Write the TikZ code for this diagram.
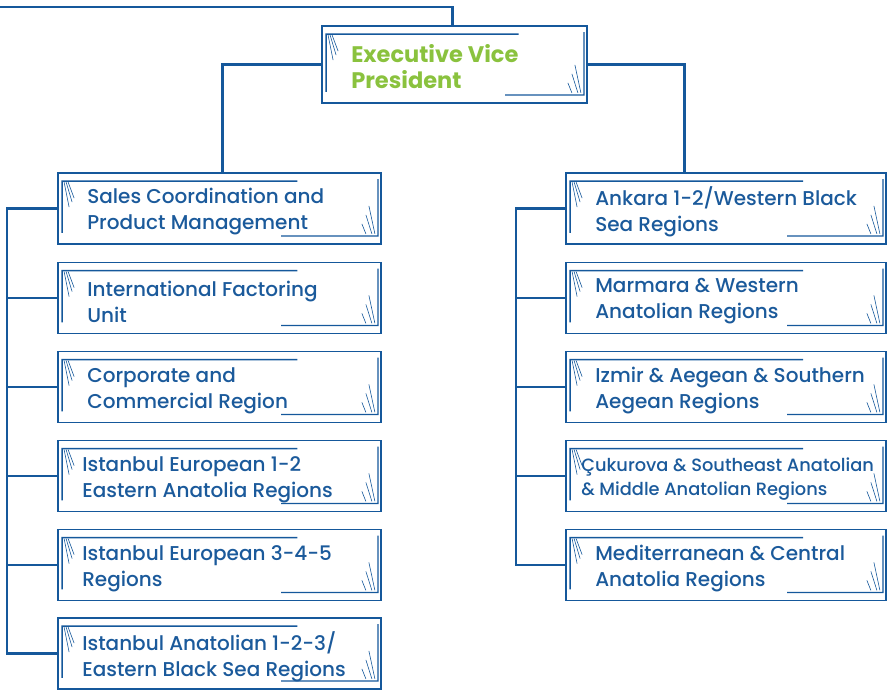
\documentclass[tikz,border=0pt]{standalone}
\usepackage{fontspec}
\setmainfont{Poppins}[UprightFont=* Medium, BoldFont=* Bold]
\usetikzlibrary{calc}
\definecolor{bl}{RGB}{21,88,155}
\definecolor{tx}{RGB}{27,90,155}
\definecolor{gr}{RGB}{138,194,62}
\tikzset{
  box/.style={draw=bl, line width=1.8pt, inner sep=0pt, minimum height=71pt},
  lbox/.style={box, minimum width=323pt},
  rbox/.style={box, minimum width=320pt},
  inner/.style={draw=bl, line width=1.3pt},
  hatch/.style={draw=bl, line width=0.6pt},
  conn/.style={draw=bl, line width=2.8pt},
  lbl/.style={font=\fontsize{20}{26}\selectfont, text=tx, align=left, inner sep=0pt, anchor=west},
  slbl/.style={font=\fontsize{17.8}{24}\selectfont, text=tx, align=left, inner sep=0pt, anchor=west},
}
\newcommand\deco[1]{%
  \draw[inner] ($(#1.south west)+(5,-12)$) -- ($(#1.north west)+(5,9)$) -- ($(#1.north west)!0.74!(#1.north east)+(0,9)$);
  \draw[inner] ($(#1.south west)!0.69!(#1.south east)+(0,-9)$) -- ($(#1.south east)+(-4,-9)$) -- ($(#1.north east)+(-4,7)$);
  \draw[hatch] ($(#1.north west)+(7,10)$) -- ($(#1.north west)+(12,35)$);
  \draw[hatch] ($(#1.north west)+(9,10)$) -- ($(#1.north west)+(15,30)$);
  \draw[hatch] ($(#1.north west)+(11,10)$) -- ($(#1.north west)+(17,26)$);
  \draw[hatch] ($(#1.south east)+(-13,-39)$) -- ($(#1.south east)+(-7,-11)$);
  \draw[hatch] ($(#1.south east)+(-16,-30)$) -- ($(#1.south east)+(-10,-11)$);
  \draw[hatch] ($(#1.south east)+(-20,-21)$) -- ($(#1.south east)+(-16,-11)$);
}
\begin{document}
\begin{tikzpicture}[x=1pt,y=-1pt]
\useasboundingbox (0,0) rectangle (888,689);
% executive
\node[box, minimum width=265pt, minimum height=77pt] (exec) at (454.5,64.5) {};
\deco{exec}
\node[lbl, text=gr, font=\fontsize{22.5}{26}\selectfont\bfseries] (texec) at ($(exec.west)+(30,2.5)$) {Executive Vice\\President};
% left column
\node[lbox] (l1) at (219.5,208.5) {};
\node[lbox] (l2) at (219.5,298) {};
\node[lbox] (l3) at (219.5,387) {};
\node[lbox] (l4) at (219.5,476) {};
\node[lbox] (l5) at (219.5,565) {};
\node[lbox] (l6) at (219.5,653.5) {};
\foreach \n in {l1,l2,l3,l4,l5,l6} {\deco{\n}}
\node[lbl] (t1) at ($(l1.west)+(30,3.5)$) {Sales Coordination and\\Product Management};
\node[lbl] (t2) at ($(l2.west)+(30,3.5)$) {International Factoring\\Unit};
\node[lbl] (t3) at ($(l3.west)+(30,3.5)$) {Corporate and\\Commercial Region};
\node[lbl] (t4) at ($(l4.west)+(25,3.5)$) {Istanbul European 1-2\\Eastern Anatolia Regions};
\node[lbl] (t5) at ($(l5.west)+(25,3.5)$) {Istanbul European 3-4-5\\Regions};
\node[lbl] (t6) at ($(l6.west)+(25,3.5)$) {Istanbul Anatolian 1-2-3/\\Eastern Black Sea Regions};
% right column
\node[rbox] (r1) at (726,208.5) {};
\node[rbox] (r2) at (726,298) {};
\node[rbox] (r3) at (726,387) {};
\node[rbox] (r4) at (726,476) {};
\node[rbox] (r5) at (726,565) {};
\foreach \n in {r1,r2,r3,r4,r5} {\deco{\n}}
\node[lbl] (u1) at ($(r1.west)+(30,3.5)$) {Ankara 1-2/Western Black\\Sea Regions};
\node[lbl] (u2) at ($(r2.west)+(30,3.5)$) {Marmara \& Western\\Anatolian Regions};
\node[lbl] (u3) at ($(r3.west)+(30,3.5)$) {Izmir \& Aegean \& Southern\\Aegean Regions};
\node[slbl] (u4) at ($(r4.west)+(16,3)$) {Çukurova \& Southeast Anatolian\\\& Middle Anatolian Regions};
\node[lbl] (u5) at ($(r5.west)+(30,3.5)$) {Mediterranean \& Central\\Anatolia Regions};
% connectors
\coordinate (top) at (0,7);
\draw[conn] (top) -| ($(exec.north west)+(131,0)$);
\draw[conn] (exec.west) -| ($(l1.north west)+(165,0)$);
\draw[conn] (exec.east) -| ($(r1.north west)+(119,0)$);
\coordinate (lbus) at (7,0);
\coordinate (rbus) at (516,0);
\draw[conn] (l1.west) -- (l1.west -| lbus) -- (l6.west -| lbus) -- (l6.west);
\foreach \n in {l2,l3,l4,l5} {\draw[conn] (\n.west) -- (\n.west -| lbus);}
\draw[conn] (r1.west) -- (r1.west -| rbus) -- (r5.west -| rbus) -- (r5.west);
\foreach \n in {r2,r3,r4} {\draw[conn] (\n.west) -- (\n.west -| rbus);}
\end{tikzpicture}
\end{document}
